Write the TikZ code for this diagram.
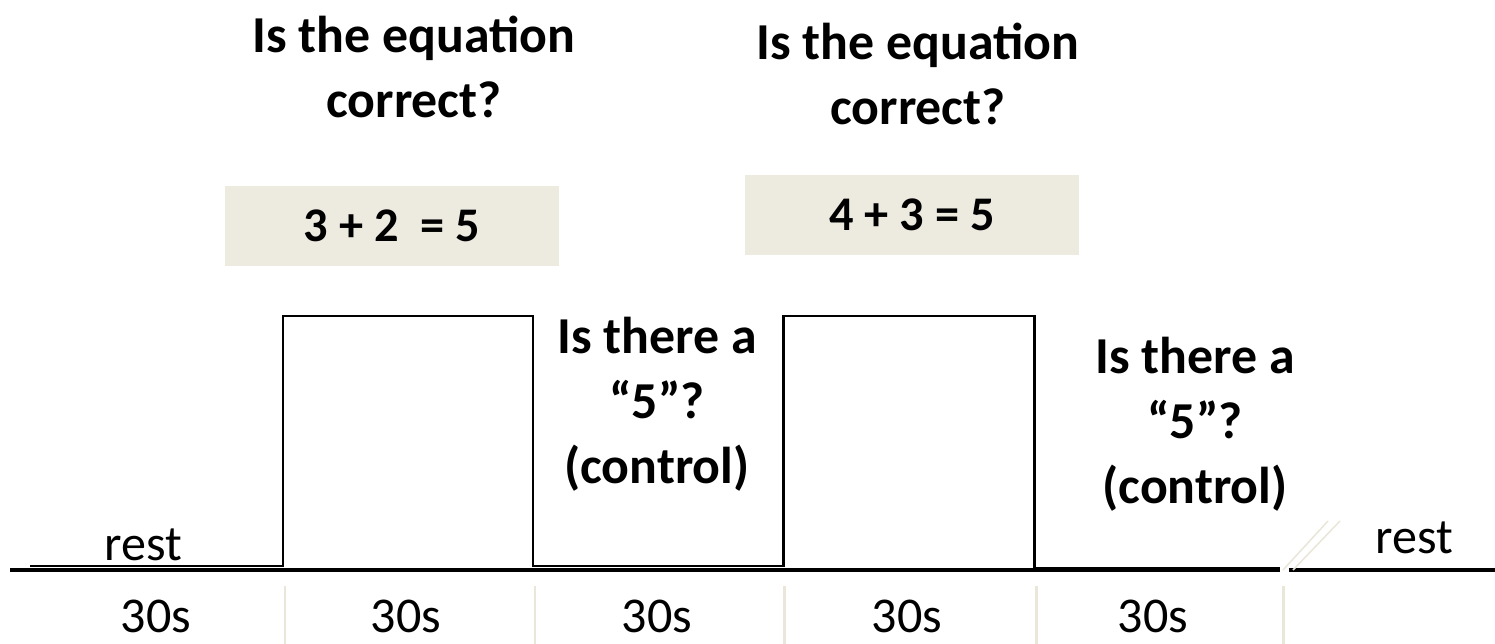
\documentclass[tikz,border=0pt]{standalone}
\usepackage{fontspec}
\setmainfont{Carlito}
\usetikzlibrary{positioning}
\definecolor{paper}{HTML}{EDEAE0}
\definecolor{tickgray}{HTML}{EAE7DA}

\begin{document}
\begin{tikzpicture}[
  x=0.02cm, y=-0.02cm,
  question/.style={align=center, inner sep=0pt, font=\fontsize{29.5}{37}\selectfont\bfseries},
  eqbox/.style={rectangle, fill=paper, minimum width=6.7cm, minimum height=1.6cm, font=\fontsize{27.5}{30}\selectfont\bfseries},
  lbl/.style={inner sep=0pt, font=\fontsize{28.5}{32}\selectfont},
  wave/.style={line width=1.7pt, line join=miter},
  axisline/.style={line width=2.3pt},
  tickline/.style={tickgray, line width=1.7pt},
  breakline/.style={tickgray, line width=0.9pt}
]
\useasboundingbox (0,0) rectangle (1495,644);

% questions
\node[question] (t1) at (414,67) {Is the equation\\correct?};
\node[question] (t2) at (918,74) {Is the equation\\correct?};

% example trials
\node[eqbox] (eq1) at (392,226) {3 + 2~ = 5};
\node[eqbox] (eq2) at (912,215) {4 + 3 = 5};

\node[question] (ctl1) at (657,404) {Is there a\\“5”?\\(control)};
\node[question] (ctl2) at (1195,424) {Is there a\\“5”?\\(control)};

% block design
\draw[axisline] (10,570) -- (1280,570);
\draw[axisline] (1289,570) -- (1495,570);
\draw[wave] (30,566) -- (283,566) -- (283,316) -- (533,316) -- (533,566)
  -- (783,566) -- (783,316) -- (1034,316) -- (1034,568) -- (1280,568);
\draw[breakline] (1283,570) -- (1328,521);
\draw[breakline] (1293,570) -- (1340,521);

\node[lbl] (rest1) at (143,545) {rest};
\node[lbl] (rest2) at (1414,538) {rest};

\foreach \x in {285,535,784,1036,1283}
  \draw[tickline] (\x,586) -- (\x,644);

\node[lbl] (d1) at (156,616) {30s};
\node[lbl] (d2) at (406,616) {30s};
\node[lbl] (d3) at (657,616) {30s};
\node[lbl] (d4) at (907,616) {30s};
\node[lbl] (d5) at (1153,616) {30s};
\end{tikzpicture}
\end{document}
